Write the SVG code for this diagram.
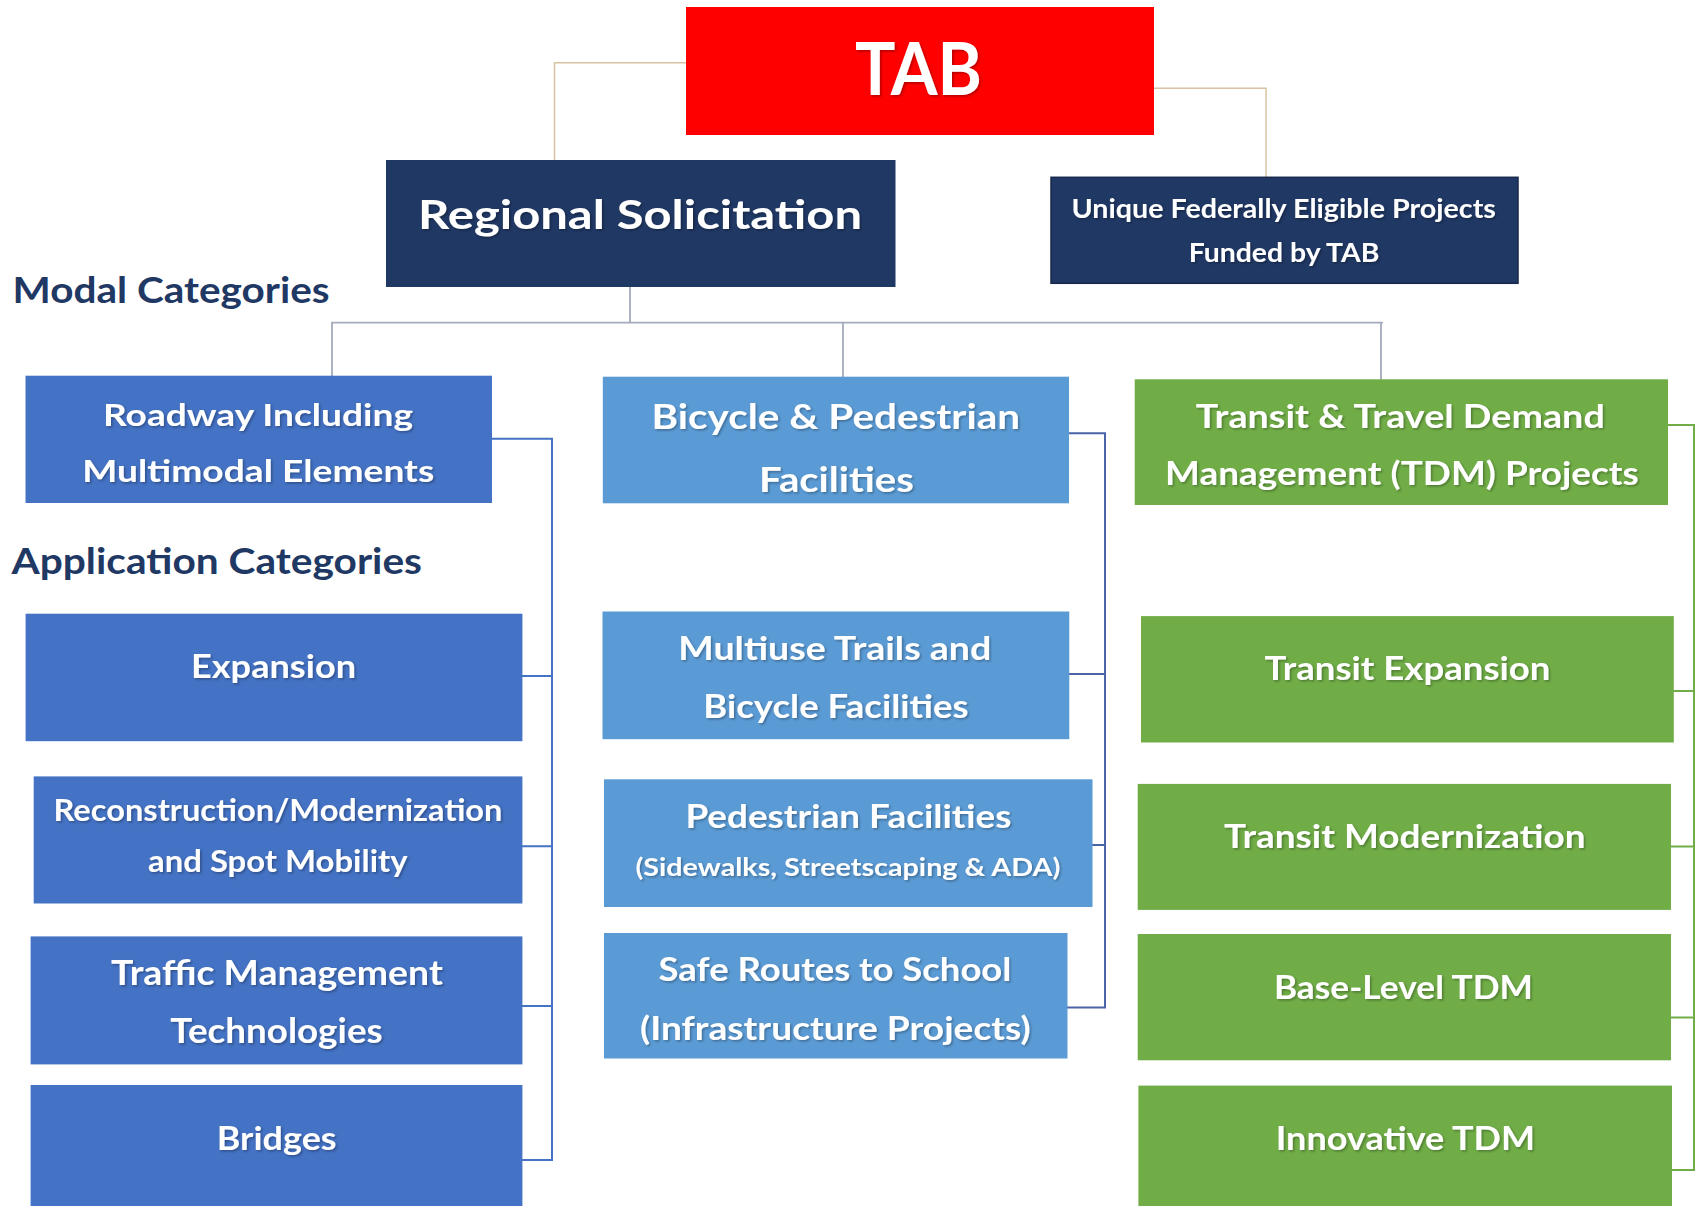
<svg xmlns="http://www.w3.org/2000/svg" width="1697" height="1206" viewBox="0 0 1697 1206">
<defs>
<style>
.t{font-family:Lato,"Liberation Sans","DejaVu Sans",sans-serif;font-weight:700;fill:#fff;text-anchor:middle;filter:url(#sh)}
.h{font-family:Lato,"Liberation Sans","DejaVu Sans",sans-serif;font-weight:700;fill:#1F3864;font-size:36px}
.road{fill:#4472C4}
.bike{fill:#5B9BD5}
.tran{fill:#70AD47}
.navy{fill:#203864}
.c{fill:none;stroke-linecap:square}
.tan{stroke:#D8C2A2;stroke-width:1.5}
.gray{stroke:#A3ABBD;stroke-width:1.8}
.cb{stroke:#4472C4;stroke-width:2}
.cm{stroke:#4A64A8;stroke-width:2}
.cg{stroke:#70AD47;stroke-width:2}
</style>
<filter id="sh" x="-10%" y="-30%" width="120%" height="160%">
<feDropShadow dx="1.5" dy="1.5" stdDeviation="1" flood-color="#000" flood-opacity="0.3"/>
</filter>
</defs>
<rect width="1697" height="1206" fill="#fff"/>

<g id="connectors">
<path class="c tan" d="M686,62.7 H554.5 V160"/>
<path class="c tan" d="M1154,88.3 H1266 V177.3"/>
<path class="c gray" d="M630,287 V322.7 M332,322.7 H1382 M332,322.7 V375.7 M843,322.7 V376.7 M1381,322.7 V379.3"/>
<path class="c cb" d="M492,438.7 H552 V1160 M522.4,676 H552 M522.4,846.3 H552 M522.4,1006 H552 M522.4,1160 H552"/>
<path class="c cm" d="M1069,433.3 H1105 V1007.6 M1069,674 H1105 M1092.5,845 H1105 M1067.5,1007.6 H1105"/>
<path class="c cg" d="M1668,425 H1694 V1170 M1673.8,691 H1694 M1671,846.5 H1694 M1671,1017.5 H1694 M1672,1170 H1694"/>
</g>

<g id="tab">
<rect x="686" y="7" width="468" height="128" fill="#FF0000"/>
<text class="t" x="918.5" y="95" font-size="72" textLength="127" lengthAdjust="spacingAndGlyphs">TAB</text>
</g>

<g id="regional-solicitation">
<rect class="navy" x="386" y="160" width="509.5" height="127"/>
<text class="t" x="640" y="229" font-size="41" textLength="444" lengthAdjust="spacingAndGlyphs">Regional Solicitation</text>
</g>

<g id="unique-projects">
<rect class="navy" x="1051" y="177.3" width="467" height="106" stroke="#17284A" stroke-width="1.5"/>
<text class="t" x="1283.7" y="218.3" font-size="26.5" textLength="424.5" lengthAdjust="spacingAndGlyphs">Unique Federally Eligible Projects</text>
<text class="t" x="1284" y="261.7" font-size="26.5" textLength="190.7" lengthAdjust="spacingAndGlyphs">Funded by TAB</text>
</g>

<g id="modal-categories-label">
<text class="h" x="12.6" y="303.3" textLength="317" lengthAdjust="spacingAndGlyphs">Modal Categories</text>
</g>

<g id="application-categories-label">
<text class="h" x="11.5" y="573.6" textLength="410.5" lengthAdjust="spacingAndGlyphs">Application Categories</text>
</g>

<g id="roadway">
<rect class="road" x="25.5" y="375.7" width="466.5" height="127.3"/>
<text class="t" x="258" y="426" font-size="30" textLength="310" lengthAdjust="spacingAndGlyphs">Roadway Including</text>
<text class="t" x="258.3" y="482.3" font-size="30" textLength="352" lengthAdjust="spacingAndGlyphs">Multimodal Elements</text>
</g>

<g id="bicycle-pedestrian">
<rect class="bike" x="602.8" y="376.7" width="466.2" height="126.6"/>
<text class="t" x="835.8" y="429" font-size="35" textLength="368.5" lengthAdjust="spacingAndGlyphs">Bicycle &amp; Pedestrian</text>
<text class="t" x="836.4" y="491.7" font-size="35" textLength="155" lengthAdjust="spacingAndGlyphs">Facilities</text>
</g>

<g id="transit-tdm">
<rect class="tran" x="1134.7" y="379.3" width="533.3" height="125.7"/>
<text class="t" x="1400.3" y="428.3" font-size="32.5" textLength="409" lengthAdjust="spacingAndGlyphs">Transit &amp; Travel Demand</text>
<text class="t" x="1401.9" y="485" font-size="32.5" textLength="473.8" lengthAdjust="spacingAndGlyphs">Management (TDM) Projects</text>
</g>

<g id="expansion">
<rect class="road" x="25.6" y="613.7" width="496.8" height="127.5"/>
<text class="t" x="273.5" y="678.3" font-size="33" textLength="165" lengthAdjust="spacingAndGlyphs">Expansion</text>
</g>

<g id="reconstruction">
<rect class="road" x="33.7" y="776.4" width="488.7" height="127.1"/>
<text class="t" x="278" y="821.2" font-size="30" textLength="449" lengthAdjust="spacingAndGlyphs">Reconstruction/Modernization</text>
<text class="t" x="277.8" y="871.8" font-size="30" textLength="259.5" lengthAdjust="spacingAndGlyphs">and Spot Mobility</text>
</g>

<g id="traffic-management">
<rect class="road" x="30.6" y="936.4" width="491.8" height="128"/>
<text class="t" x="276.9" y="984.8" font-size="34" textLength="331.8" lengthAdjust="spacingAndGlyphs">Traffic Management</text>
<text class="t" x="276.5" y="1043.3" font-size="34" textLength="212.4" lengthAdjust="spacingAndGlyphs">Technologies</text>
</g>

<g id="bridges">
<rect class="road" x="30.6" y="1085" width="491.8" height="121"/>
<text class="t" x="276.7" y="1149.7" font-size="33" textLength="119.8" lengthAdjust="spacingAndGlyphs">Bridges</text>
</g>

<g id="multiuse-trails">
<rect class="bike" x="602.5" y="611.5" width="466.8" height="127.7"/>
<text class="t" x="834.8" y="659.5" font-size="33" textLength="313" lengthAdjust="spacingAndGlyphs">Multiuse Trails and</text>
<text class="t" x="835.9" y="718.2" font-size="33" textLength="265.4" lengthAdjust="spacingAndGlyphs">Bicycle Facilities</text>
</g>

<g id="pedestrian-facilities">
<rect class="bike" x="604" y="779.3" width="488.5" height="127.7"/>
<text class="t" x="848.4" y="828" font-size="33" textLength="326" lengthAdjust="spacingAndGlyphs">Pedestrian Facilities</text>
<text class="t" x="847.9" y="876" font-size="25" textLength="425" lengthAdjust="spacingAndGlyphs">(Sidewalks, Streetscaping &amp; ADA)</text>
</g>

<g id="safe-routes">
<rect class="bike" x="604" y="933" width="463.5" height="125.5"/>
<text class="t" x="835" y="981" font-size="33" textLength="352.8" lengthAdjust="spacingAndGlyphs">Safe Routes to School</text>
<text class="t" x="835.4" y="1039.5" font-size="33" textLength="390.7" lengthAdjust="spacingAndGlyphs">(Infrastructure Projects)</text>
</g>

<g id="transit-expansion">
<rect class="tran" x="1141" y="616.1" width="532.8" height="126.4"/>
<text class="t" x="1407.5" y="680.3" font-size="33" textLength="286" lengthAdjust="spacingAndGlyphs">Transit Expansion</text>
</g>

<g id="transit-modernization">
<rect class="tran" x="1137.7" y="783.9" width="533.3" height="126"/>
<text class="t" x="1404.8" y="848" font-size="33" textLength="361.5" lengthAdjust="spacingAndGlyphs">Transit Modernization</text>
</g>

<g id="base-level-tdm">
<rect class="tran" x="1137.7" y="934" width="533.3" height="126.3"/>
<text class="t" x="1403.4" y="998.5" font-size="33" textLength="259" lengthAdjust="spacingAndGlyphs">Base-Level TDM</text>
</g>

<g id="innovative-tdm">
<rect class="tran" x="1138.4" y="1085.6" width="533.6" height="120.4"/>
<text class="t" x="1405.4" y="1149.8" font-size="33" textLength="259.4" lengthAdjust="spacingAndGlyphs">Innovative TDM</text>
</g>
</svg>
